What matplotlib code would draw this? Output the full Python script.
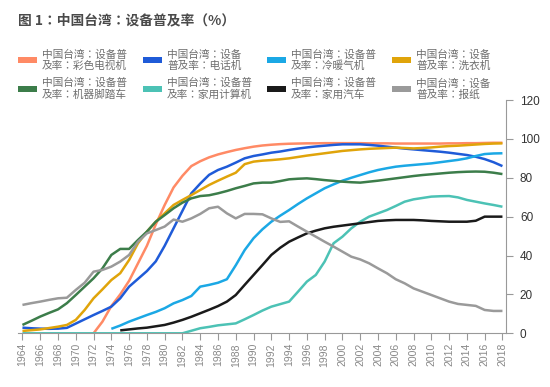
import numpy as np
import matplotlib
matplotlib.use("Agg")
import matplotlib.pyplot as plt
from matplotlib.patches import Rectangle

plt.rcParams['font.family'] = ['Noto Sans CJK TC', 'Noto Sans CJK SC', 'DejaVu Sans']
nan = np.nan

years = list(range(1964, 2019))

color_tv = [nan]*8 + [0, 6, 14, 20, 27, 36, 45, 56, 66, 75, 81, 86, 88.5, 90.5, 92, 93.2, 94.3, 95.2,
            96, 96.6, 97, 97.3, 97.5, 97.6, 97.7, 97.7, 97.8, 97.8, 97.8, 97.8, 97.8, 97.7, 97.7, 97.7,
            97.6, 97.6, 97.6, 97.6, 97.6, 97.6, 97.7, 97.7, 97.8, 97.8, 97.9, 98, 98]
telephone = [2.9, 2.6, 2.4, 2.3, 2.4, 2.8, 5, 7.2, 9.4, 11.5, 13.7, 18, 24, 28, 32, 37, 45, 54, 63, 72, 77,
             81.5, 84, 85.7, 87.8, 90, 91.2, 92, 92.9, 93.5, 94.3, 95, 95.6, 96.1, 96.5, 96.9, 97.2, 97.2,
             97.2, 96.9, 96.5, 96, 95.5, 95, 94.6, 94.2, 93.8, 93.4, 92.9, 92.3, 91.7, 90.8, 89.6, 88, 86]
air_cond = [nan]*10 + [2.3, 4, 6, 7.7, 9.4, 11, 12.9, 15.4, 17.1, 19.2, 24, 24.9, 26, 27.8, 35, 42.8, 48.9,
                       53.5, 57.4, 60.5, 63.4, 66.5, 69.4, 72, 74.6, 76.6, 78.5, 80, 81.4, 82.8, 84, 84.9,
                       85.7, 86.2, 86.6, 87, 87.4, 88, 88.6, 89.2, 90, 91.2, 92.2, 92.5, 92.6]
washer = [1.2, 1.6, 2, 2.7, 3.4, 4.3, 6.9, 12, 18, 22.6, 27.4, 30.9, 37.7, 46.3, 52.3, 57.4, 61.7, 66, 68.6,
          71.1, 73.7, 76.3, 78.5, 80.6, 82.6, 87, 88.3, 88.8, 89.1, 89.5, 90, 90.7, 91.4, 92, 92.6, 93.2,
          93.8, 94.2, 94.6, 94.9, 95.1, 95.3, 95.5, 95.3, 95.1, 95.3, 95.6, 96, 96.3, 96.5, 96.8, 97.1,
          97.4, 97.6, 97.7]
motorcycle = [4.3, 6.4, 8.6, 10.5, 12.3, 15.5, 19.7, 24, 28.3, 33.4, 40.3, 43.4, 43.4, 48, 52.3, 57.4, 60.8,
              64.3, 67.2, 69.4, 70.6, 71, 72, 73.2, 74.6, 75.8, 77.1, 77.5, 77.5, 78.3, 79.2, 79.5, 79.7,
              79.3, 78.8, 78.4, 78, 77.7, 77.5, 78, 78.5, 79.1, 79.7, 80.3, 80.9, 81.4, 81.8, 82.2, 82.6,
              82.9, 83.1, 83.2, 83.1, 82.6, 81.9]
computer = [0]*19 + [1.3, 2.6, 3.3, 4.1, 4.6, 5.1, 7.2, 9.4, 11.7, 13.7, 15, 16.3, 21.4, 26.6, 30, 36.9,
                     46.3, 49.7, 54, 57.4, 60, 61.7, 63.4, 65.5, 67.7, 68.9, 69.6, 70.3, 70.5, 70.6, 69.9,
                     68.6, 67.7, 66.8, 66, 65.1]
car = [nan]*11 + [1.5, 2, 2.5, 2.9, 3.6, 4.3, 5.5, 6.9, 8.5, 10.3, 12.1, 14, 16.3, 19.7, 24.9, 30, 35.1, 40.3,
                  44, 47.1, 49.3, 51.4, 52.8, 54, 54.8, 55.4, 56, 56.6, 57.2, 57.8, 58.1, 58.3, 58.3, 58.3,
                  58.1, 57.8, 57.6, 57.4, 57.4, 57.4, 57.9, 60, 60, 60]
newspaper = [14.6, 15.5, 16.3, 17.2, 18, 18.3, 22.3, 26, 31.7, 32.6, 34.3, 36.9, 40.3, 47.1, 51.4, 53.1,
             54.9, 58.5, 57.4, 59.1, 61.4, 64.3, 65.1, 61.7, 59.1, 61.4, 61.4, 61.2, 59.1, 57.3, 57.6,
             54.9, 52.3, 49.7, 47.1, 44.6, 42, 39.4, 38, 36, 33.4, 30.9, 27.8, 25.7, 23.1, 21.4, 19.7,
             18, 16.3, 15.1, 14.6, 14.1, 12, 11.5, 11.5]

series = [
    ("中国台湾：设备普\n及率：彩色电视机", color_tv, "#FF8A65"),
    ("中国台湾：设备\n普及率：电话机", telephone, "#1F5BD8"),
    ("中国台湾：设备普\n及率：冷暖气机", air_cond, "#1BA8E5"),
    ("中国台湾：设备\n普及率：洗衣机", washer, "#E0A40A"),
    ("中国台湾：设备普\n及率：机器脚踏车", motorcycle, "#3C7D4A"),
    ("中国台湾：设备普\n及率：家用计算机", computer, "#4CC2B5"),
    ("中国台湾：设备普\n及率：家用汽车", car, "#1A1A1A"),
    ("中国台湾：设备\n普及率：报纸", newspaper, "#9A9A9A"),
]

W, H = 550, 387
fig = plt.figure(figsize=(W/100, H/100), dpi=100)
ax = fig.add_axes([18/W, 1-333.3/H, (506-18)/W, (333.3-100)/H])

for label, vals, col in series:
    ax.plot(years, vals, color=col, lw=1.8, solid_capstyle='butt', solid_joinstyle='round')

ax.set_xlim(1963.5, 2018.4)
ax.set_ylim(0, 120)
ax.set_xticks(list(range(1964, 2019, 2)))
ax.set_xticklabels([str(y) for y in range(1964, 2019, 2)], rotation=90,
                   fontsize=7.5, color='#888888', family=['Liberation Sans', 'DejaVu Sans'])
ax.set_yticks([0, 20, 40, 60, 80, 100, 120])
ax.yaxis.tick_right()
for t in ax.get_yticklabels():
    t.set_fontsize(8.5)
    t.set_color('#333333')
    t.set_family(['Liberation Sans', 'DejaVu Sans'])
ax.tick_params(axis='x', length=5, width=0.8, color='#999999', pad=2)
ax.tick_params(axis='y', length=5, width=0.8, color='#999999', pad=5)
for s in ['top', 'left']:
    ax.spines[s].set_visible(False)
for s in ['bottom', 'right']:
    ax.spines[s].set_color('#999999')
    ax.spines[s].set_linewidth(0.8)

fig.text(18/W, 1-20.5/H, "图 1：中国台湾：设备普及率（%）", fontsize=9.9, fontweight='bold',
         color='#4a4a4a', va='center', ha='left')

col_x = [18, 143, 267, 392]
row_y = [60, 88.8]
for i, (label, vals, col) in enumerate(series):
    cx = col_x[i % 4]
    cy = row_y[i // 4]
    fig.add_artist(Rectangle((cx/W, 1-(cy+2.8)/H), 18.5/W, 5.6/H, transform=fig.transFigure,
                             facecolor=col, edgecolor='none'))
    fig.text((cx+24)/W, 1-cy/H, label, fontsize=7.7, color='#6e6e6e', va='center', ha='left',
             linespacing=1.12)

fig.savefig("out.png", dpi=100)
